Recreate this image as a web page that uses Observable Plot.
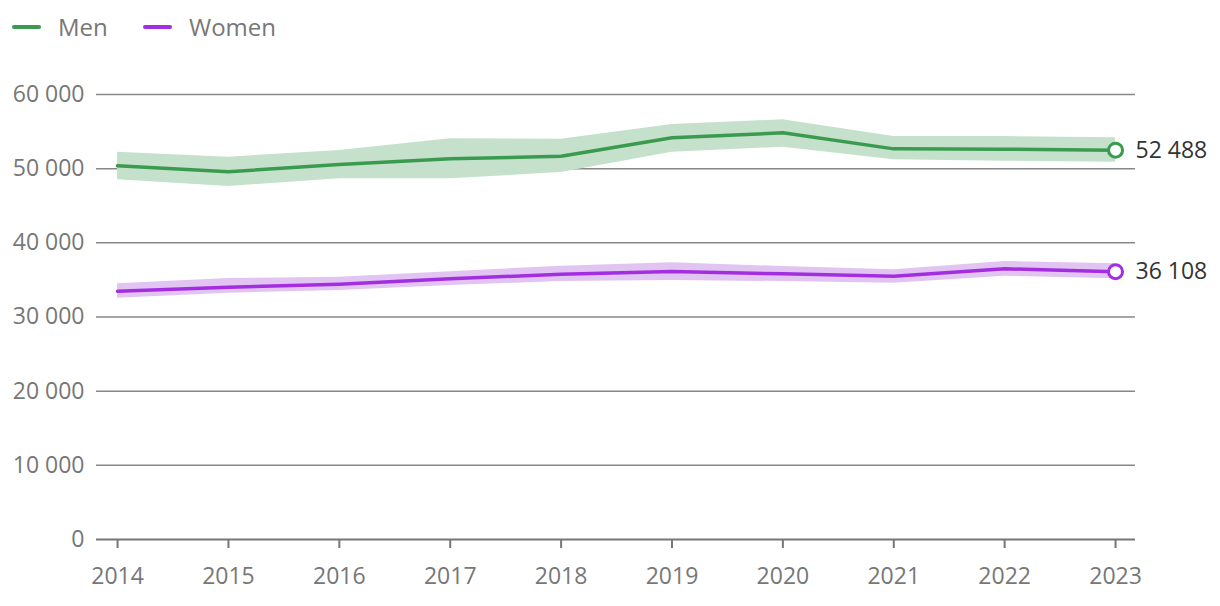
<!DOCTYPE html>
<html>
<head>
<meta charset="utf-8">
<script src="https://cdn.jsdelivr.net/npm/d3@7"></script>
<script src="https://cdn.jsdelivr.net/npm/@observablehq/plot@0.6"></script>
<style>
  html, body { margin: 0; padding: 0; background: #fff; }
  body { width: 1220px; height: 606px; overflow: hidden; font-family: "Open Sans", sans-serif; position: relative; }
  .legend { position: absolute; left: 0; top: 0; height: 56px; width: 1220px; }
  .legend .item { position: absolute; top: 10px; display: flex; align-items: center; font-size: 24px; line-height: 34px; color: #777; }
  .legend .sw { width: 29px; height: 4px; border-radius: 2px; margin-right: 17px; }
  #chart { position: absolute; left: 0; top: 56px; }
</style>
</head>
<body>
<div class="legend">
  <div class="item" style="left:12px"><span class="sw" style="background:#3a9b4f"></span>Men</div>
  <div class="item" style="left:143px"><span class="sw" style="background:#a32ee0"></span>Women</div>
</div>
<div id="chart"></div>
<script>
const years = [2014, 2015, 2016, 2017, 2018, 2019, 2020, 2021, 2022, 2023];
const menValue = [50380, 49580, 50560, 51330, 51680, 54160, 54830, 52670, 52620, 52488];
const menLow   = [48500, 47590, 48630, 48630, 49480, 52220, 52890, 51190, 51010, 50870];
const menHigh  = [52220, 51550, 52450, 54020, 53970, 55950, 56590, 54330, 54330, 54160];
const womenValue = [33480, 34020, 34420, 35150, 35770, 36130, 35820, 35500, 36500, 36108];
const womenLow   = [32540, 33210, 33570, 34250, 34780, 34920, 34780, 34560, 35500, 35150];
const womenHigh  = [34470, 35190, 35360, 36090, 36850, 37300, 36810, 36360, 37480, 37170];
const yTicks = [0, 10000, 20000, 30000, 40000, 50000, 60000];

const locale = d3.formatLocale({decimal: ",", thousands: "\u00a0", grouping: [3], currency: ["", ""]});
const fmt = locale.format(",d");

const green = "#3a9b4f", greenBand = "#c5e1cb";
const purple = "#a32ee0", purpleBand = "#e2c4f3";

const men = years.map((y, i) => ({year: y, v: menValue[i], lo: menLow[i], hi: menHigh[i]}));
const women = years.map((y, i) => ({year: y, v: womenValue[i], lo: womenLow[i], hi: womenHigh[i]}));
const last = [men[men.length - 1], women[women.length - 1]];

const chart = Plot.plot({
  width: 1220,
  height: 550,
  marginLeft: 96,
  marginRight: 85,
  marginTop: 38,
  marginBottom: 67,
  style: {fontFamily: "'Open Sans', sans-serif", fontSize: "24px", color: "#777", background: "white"},
  x: {domain: [2013.81, 2023.18], label: null},
  y: {domain: [0, 60000], label: null},
  marks: [
    Plot.ruleY(yTicks.filter(d => d > 0), {stroke: "#888", strokeWidth: 1.5}),
    Plot.areaY(men, {x: "year", y1: "lo", y2: "hi", fill: greenBand}),
    Plot.areaY(women, {x: "year", y1: "lo", y2: "hi", fill: purpleBand}),
    Plot.lineY(men, {x: "year", y: "v", stroke: green, strokeWidth: 3.5}),
    Plot.lineY(women, {x: "year", y: "v", stroke: purple, strokeWidth: 3.5}),
    Plot.ruleY([0], {stroke: "#777", strokeWidth: 2}),
    Plot.axisX({ticks: years, tickFormat: d => String(d), tickSize: 9, tickPadding: 19, stroke: "#777", strokeWidth: 2, fill: "#777", fontSize: 23}),
    Plot.axisY({ticks: yTicks, tickFormat: fmt, tickSize: 0, tickPadding: 12, fill: "#777", fontSize: 23}),
    Plot.dot(last, {x: "year", y: "v", r: 7, fill: "white", stroke: (d, i) => i === 0 ? green : purple, strokeWidth: 3}),
    Plot.text(last, {x: "year", y: "v", text: d => fmt(d.v), dx: 20, textAnchor: "start", fill: "#333", fontSize: 23})
  ]
});
document.getElementById("chart").appendChild(chart);
</script>
</body>
</html>
